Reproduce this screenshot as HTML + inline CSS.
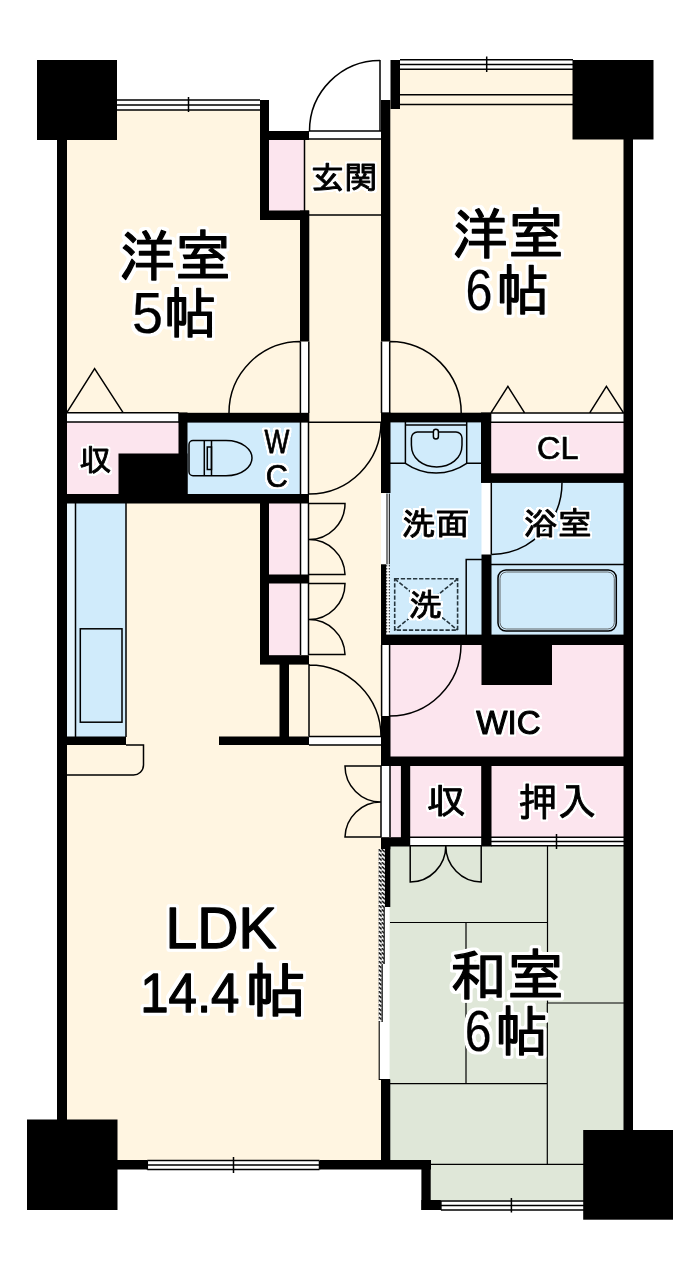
<!DOCTYPE html>
<html lang="ja">
<head>
<meta charset="utf-8">
<title>間取り図</title>
<style>
html,body{margin:0;padding:0;background:#fff;}
body{width:700px;height:1274px;overflow:hidden;}
svg{display:block;}
.t{font-family:"Liberation Sans","IPAGothic","Noto Sans CJK JP",sans-serif;fill:#000;stroke:#000;stroke-width:1.3px;stroke-linejoin:round;text-anchor:start;}
.s{stroke-width:0.9px;}
.n{stroke-width:1.3px;}
.n0{stroke-width:0.2px;}
.tb{stroke-width:1.5px;}
.ns{stroke-width:0.7px;}
.nw{stroke-width:1.1px;}
.l{fill:none;stroke:#000;stroke-width:1.5;}
.w{fill:#000;}
.wh{fill:#fff;}
.c{fill:#fff5e1;}
.p{fill:#fce5ee;}
.b{fill:#d0ebfb;}
.g{fill:#dfe7d8;}
</style>
</head>
<body>
<svg width="700" height="1274" viewBox="0 0 700 1274">
<rect width="700" height="1274" fill="#fff"/>

<!-- ===== FLOOR FILLS ===== -->
<g id="floors">
<!-- 洋室5 -->
<rect class="c" x="62" y="110" width="203" height="308"/>
<rect class="c" x="260" y="215" width="45" height="203"/>
<!-- hall + 玄関 -->
<rect class="c" x="304" y="139" width="82" height="625"/>
<!-- 洋室6 -->
<rect class="c" x="386" y="70" width="242" height="348"/>
<!-- LDK -->
<rect class="c" x="62" y="500" width="324" height="665"/>
<!-- pinks -->
<rect class="p" x="268" y="139" width="36.500" height="72"/>
<rect class="p" x="62" y="421" width="120" height="75"/>
<rect class="p" x="268" y="503" width="32.500" height="155"/>
<rect class="p" x="488" y="421" width="138" height="54"/>
<rect class="p" x="386" y="644" width="240" height="114"/>
<rect class="p" x="388" y="765" width="238" height="73"/>
<!-- blues -->
<rect class="b" x="186" y="421" width="114.500" height="74"/>
<rect class="b" x="66" y="503" width="60" height="234"/>
<rect x="66" y="503" width="9.500" height="234" fill="#e6f5fd"/>
<rect class="b" x="386" y="421" width="98" height="215"/>
<rect class="b" x="490" y="481" width="136" height="155"/>
<!-- green -->
<rect class="g" x="388" y="845.500" width="238" height="320"/>
<rect class="g" x="428" y="1160" width="158" height="40.500"/>
</g>

<!-- ===== WHITE STRIPS (doors / windows) ===== -->
<g id="whites">
<rect class="wh" x="117" y="100" width="143" height="10"/>
<rect class="wh" x="400" y="60" width="172" height="10"/>
<rect class="wh" x="309" y="131" width="75" height="8"/>
<rect class="wh" x="380" y="59" width="11" height="42"/>
<rect class="wh" x="300.500" y="341.400" width="8.300" height="72"/>
<rect class="wh" x="381.500" y="341.400" width="8.300" height="72"/>
<rect class="wh" x="67" y="412.800" width="112" height="9.200"/>
<rect class="wh" x="491" y="413" width="133" height="9.200"/>
<rect class="wh" x="300.500" y="422" width="8" height="72"/>
<rect class="wh" x="300.500" y="503" width="8" height="152"/>
<rect class="wh" x="381" y="493.600" width="8.500" height="70.700"/>
<rect class="wh" x="386" y="564.300" width="3.500" height="70.300"/>
<rect class="wh" x="481.500" y="482" width="10" height="73"/>
<rect class="wh" x="381" y="645" width="9" height="71"/>
<rect class="wh" x="309" y="736.500" width="72" height="8.500"/>
<rect class="wh" x="381" y="766" width="9" height="71"/>
<rect class="wh" x="410" y="837.300" width="72" height="8.400"/>
<rect class="wh" x="491" y="837.300" width="133" height="8.400"/>
<rect class="wh" x="147" y="1160" width="173" height="10"/>
<rect class="wh" x="440" y="1200.500" width="144" height="9.500"/>
</g>

<!-- ===== WALLS ===== -->
<g id="walls" class="w">
<!-- pillars -->
<rect x="37" y="60" width="80" height="80"/>
<rect x="572.500" y="60" width="81" height="79.500"/>
<rect x="27" y="1119.500" width="90.500" height="90.500"/>
<rect x="583.200" y="1130" width="89.800" height="89.700"/>
<!-- outer left / right -->
<rect x="57" y="139" width="10" height="982"/>
<rect x="623.500" y="139" width="9.500" height="992"/>
<!-- 洋室5 right wall + entrance closet -->
<rect x="260" y="100" width="9" height="120"/>
<rect x="260" y="131" width="49" height="9"/>
<rect x="260" y="210.500" width="49" height="9.500"/>
<rect x="300" y="210.500" width="9.300" height="131"/>
<!-- entrance right / 洋室6 left -->
<rect x="390.500" y="60" width="9.500" height="49"/>
<rect x="381" y="100" width="9.300" height="241.500"/>
<!-- mid horizontal wall row (y 412-422) -->
<rect x="178.500" y="412.800" width="130.800" height="9.800"/>
<rect x="178.500" y="412.500" width="9" height="82"/>
<rect x="118.500" y="453.500" width="69" height="41"/>
<rect x="57" y="494" width="252" height="9.500"/>
<rect x="381" y="412.700" width="110.200" height="9.700"/>
<rect x="381" y="412.500" width="9.500" height="80.500"/>
<rect x="481" y="412.500" width="10.200" height="70"/>
<rect x="481" y="473.300" width="152" height="9.600"/>
<rect x="481.500" y="554.500" width="10" height="90"/>
<rect x="381" y="564.300" width="5.200" height="80"/>
<rect x="381" y="634.600" width="252" height="10.400"/>
<rect x="481.500" y="645" width="70.500" height="40"/>
<!-- hall closets -->
<rect x="260" y="494" width="9" height="170"/>
<rect x="260" y="574.500" width="49" height="9"/>
<rect x="260" y="655.200" width="49" height="9.400"/>
<rect x="279.500" y="664" width="9.500" height="81"/>
<rect x="219" y="736.500" width="90" height="8.500"/>
<!-- kitchen bottom -->
<rect x="57" y="736.500" width="69" height="8.500"/>
<!-- WIC bottom row -->
<rect x="381" y="716" width="9.500" height="50"/>
<rect x="381" y="756.500" width="252" height="9.500"/>
<rect x="400.900" y="766" width="9.300" height="80"/>
<rect x="481.200" y="766" width="10.300" height="80.500"/>
<rect x="381" y="837.200" width="29" height="9.300"/>
<rect x="381" y="846" width="9.300" height="3.300"/>
<!-- bottom -->
<rect x="381" y="1079.500" width="9.300" height="89"/>
<rect x="117" y="1160" width="30.500" height="9.500"/>
<rect x="320" y="1160" width="111" height="9.500"/>
<rect x="421.400" y="1160" width="9.300" height="50"/>
<rect x="421.400" y="1200" width="19.500" height="10"/>
</g>

<!-- ===== THIN LINES ===== -->
<g id="lines" class="l">
<!-- window 洋室5 -->
<path d="M117 100H260M117 105H260M117 110H260M188.500 97V112"/>
<!-- window 洋室6 -->
<path d="M400 59.700H573M400 64.500H573M400 69.300H573M400 94.700H573M400 104.500H573M486.700 56.500V72"/>
<!-- entrance -->
<path d="M309 131H384M309 139H384M304.500 139V211M309 215H384M380 60V131"/>
<path d="M309.500 131A70.500 70.500 0 0 1 380 60.500"/>
<!-- 洋室5 door -->
<path d="M300.400 341.400V413M308.800 341.400V413M229 413A71.500 71.500 0 0 1 300.400 341.400"/>
<!-- 洋室6 door -->
<path d="M389.700 341.400V413M381.500 341.400V413M389.700 341.400A71.500 71.500 0 0 1 461.200 413"/>
<!-- closet triangles -->
<path d="M66.800 412.600L94.600 368.600L123.100 412.600M66.800 412.800H179M66.800 422H179"/>
<path d="M491 412.800L507.900 386.400L524.600 412.800M589.700 412.800L606.400 386.400L623.500 412.800M491 413.100H624M491 422.200H624"/>
<path d="M309 422.200H381.500"/>
<!-- WC door -->
<path d="M300.500 422V494M308.500 422V494M381 422A72 72 0 0 1 309 494"/>
<!-- toilet -->
<path d="M189 444.500A4 4 0 0 1 193 440.500H226C243 440.500 252 450 252 458C252 466 243 475.700 226 475.700H193A4 4 0 0 1 189 471.700Z"/>
<path d="M204.300 440.500V475.700M211.500 440.500V475.700"/>
<rect x="207.300" y="447" width="4.200" height="22.500"/>
<!-- hall closet doors -->
<path d="M300.500 503V655M308.500 503V655"/>
<path d="M309 503.500H345A36 36 0 0 1 309 539.500A36 36 0 0 1 345 574.500H309"/>
<path d="M309 583.500H345A36 36 0 0 1 309 619.500A36 36 0 0 1 345 654.500H309"/>
<!-- LDK door -->
<path d="M309 664V736.500M309 736.500H381M309 745H381M309 665A72 72 0 0 1 381 737"/>
<!-- kitchen -->
<path d="M75.500 503V737M126 503V737"/>
<rect x="80.300" y="628.800" width="41.700" height="93.400"/>
<path d="M67 775H133A10 10 0 0 0 143.500 765V745H126"/>
<!-- 洗面 -->
<path d="M405.400 422V463.300A53.700 53.700 0 0 0 466.700 463.300V422M405.400 425H466.700M390 463.200H405.400M466.700 463.200H481"/>
<path d="M411.400 438A6 6 0 0 1 417.400 432H456A6 6 0 0 1 462 438V445C462 459 450 466.900 436.700 466.900C423 466.900 411.400 459 411.400 445Z"/>
<rect x="433.400" y="429.200" width="5" height="9.800" rx="2.500" fill="#e4f4fc"/>
<path d="M466.200 635V559.600H482"/>
<path d="M389.300 493.600V564.300M387 493.600V564.300" style="stroke-width:1"/>
<!-- 浴室 -->
<path d="M562 482.500A71 72 0 0 1 491.300 554.500M491.300 482.500V554.500"/>
<path d="M491 564.600H624"/>
<rect x="498" y="570" width="118.300" height="61" rx="8"/>
<rect x="500" y="572" width="114.300" height="57" rx="6.500" style="stroke-width:0.8;stroke:#444"/>
<!-- WIC door -->
<path d="M389.600 645V716M381.600 645V716M461 645A71.500 71.500 0 0 1 389.600 716"/>
<!-- LDK closet double door -->
<path d="M381 766V837M390 766V837"/>
<path d="M381 766H345A36 36 0 0 0 381 802A36 36 0 0 0 345 837H381"/>
<!-- 収 doors (和室) -->
<path d="M410 837.300H482M410 845.700H482"/>
<path d="M410.200 845.700V882A35.600 36.300 0 0 0 445.800 845.700A35.600 36.300 0 0 0 481.200 882V845.700"/>
<!-- 押入 sliding -->
<path d="M491 837.300H624M491 841.500H624M491 845.700H624M556.500 834V849"/>
<!-- 和室 sliding door -->
<!-- tatami -->
<path style="stroke-width:1.200" d="M547.500 845V1003H624M390 922.500H547.500M466 922.500V1083.700M390 1083.700H547.500M547.300 1003V1164.300M430 1164.300H584"/>
<!-- bottom windows -->
<path d="M147.300 1160.500H319.500M147.300 1165H319.500M147.300 1169.500H319.500M233.500 1157V1173M147.300 1160.500V1169.500M319.500 1160.500V1169.500"/>
<path d="M440.900 1200.900H584M440.900 1205.400H584M440.900 1210H584M511.400 1198V1212.500M440.900 1200.900V1210"/>
</g>

<!-- washing machine dashed -->
<g fill="none" stroke="#26363e" stroke-width="1.600" stroke-dasharray="4.300 1.800">
<rect x="394.700" y="578.800" width="62.900" height="51.300"/>
<path d="M394.700 578.800L457.600 630.100M457.600 578.800L394.700 630.100"/>
</g>
<path d="M386.700 565V634M389.300 565V634" fill="none" stroke="#222" stroke-width="1" stroke-dasharray="1.500 1.500"/>

<!-- hatched pocket (fusuma) -->
<defs>
<pattern id="hat" patternUnits="userSpaceOnUse" x="378.400" y="849" width="3.200" height="4.300">
<rect width="3.200" height="4.300" fill="#fff"/>
<path d="M-0.500 -0.300L3.700 3.300" stroke="#000" stroke-width="1.500"/>
</pattern>
</defs>
<rect x="379.600" y="907" width="10" height="172.500" fill="#fff"/>
<rect x="378.400" y="849" width="6.600" height="58" fill="url(#hat)"/>
<rect x="378.400" y="907" width="5.500" height="57" fill="url(#hat)"/>
<rect x="378.400" y="964" width="3.400" height="58" fill="url(#hat)"/>
<path class="l" d="M384.200 907V964M382.200 964V1022M379.200 1022V1079.500H390" style="stroke-width:1.100"/>
<rect class="w" x="385" y="846" width="5.300" height="61"/>

<!-- ===== TEXT ===== -->
<defs>
<filter id="halo2" filterUnits="userSpaceOnUse" x="0" y="0" width="700" height="1274" color-interpolation-filters="sRGB">
<feMorphology in="SourceAlpha" operator="dilate" radius="2" result="d"/>
<feGaussianBlur in="d" stdDeviation="0.600" result="bl"/>
<feComponentTransfer in="bl" result="th"><feFuncA type="linear" slope="4" intercept="-1.400"/></feComponentTransfer>
<feFlood flood-color="#fff" result="f"/>
<feComposite in="f" in2="th" operator="in" result="h"/>
<feMerge><feMergeNode in="h"/><feMergeNode in="SourceGraphic"/></feMerge>
</filter>
<filter id="halo" filterUnits="userSpaceOnUse" x="0" y="0" width="700" height="1274" color-interpolation-filters="sRGB">
<feMorphology in="SourceAlpha" operator="dilate" radius="3" result="d"/>
<feGaussianBlur in="d" stdDeviation="0.800" result="bl"/>
<feComponentTransfer in="bl" result="th"><feFuncA type="linear" slope="4" intercept="-1.400"/></feComponentTransfer>
<feFlood flood-color="#fff" result="f"/>
<feComposite in="f" in2="th" operator="in" result="h"/>
<feMerge><feMergeNode in="h"/><feMergeNode in="SourceGraphic"/></feMerge>
</filter>
</defs>
<g id="text">
<g filter="url(#halo)">
<text class="t" font-size="56" transform="matrix(0.998 0 0 0.990 119.20 275.94)">洋室</text>
<text class="t" font-size="56" transform="matrix(0.997 0 0 1.032 132.06 332.51)"><tspan class="n0" font-size="56">5</tspan><tspan font-size="53" dx="1">帖</tspan></text>
<text class="t" font-size="56" transform="matrix(0.995 0 0 0.990 452.21 253.54)">洋室</text>
<text class="t" font-size="56" transform="matrix(0.999 0 0 1.032 465.45 310.21)"><tspan class="n0" font-size="56" textLength="27" lengthAdjust="spacingAndGlyphs">6</tspan><tspan font-size="53" dx="4">帖</tspan></text>
<text class="t n" font-size="57" transform="matrix(1.001 0 0 1.021 165.50 947.99)">LDK</text>
<text class="t" font-size="58" transform="matrix(1.012 0 0 0.978 140.21 1011.61)"><tspan class="n" font-size="57" textLength="98" lengthAdjust="spacingAndGlyphs">14.4</tspan><tspan class="tb" font-size="60" dx="6">帖</tspan></text>
<text class="t" font-size="56" transform="matrix(1.015 0 0 0.990 450.11 995.24)">和室</text>
<text class="t" font-size="56" transform="matrix(0.992 0 0 1.032 464.77 1051.31)"><tspan class="n0" font-size="56" textLength="27" lengthAdjust="spacingAndGlyphs">6</tspan><tspan font-size="53" dx="4">帖</tspan></text>
</g>
<g filter="url(#halo2)">
<text class="t s" font-size="32" transform="matrix(1.045 0 0 0.983 310.71 189.30)">玄関</text>
<text class="t s" font-size="32" transform="matrix(1.008 0 0 0.970 79.29 470.93)">収</text>
<text class="t ns" font-size="30" transform="matrix(0.877 0 0 1.078 264.62 452.73)">W</text>
<text class="t ns" font-size="30" transform="matrix(1.021 0 0 1.053 265.82 486.77)">C</text>
<text class="t ns" font-size="32" transform="matrix(1.013 0 0 0.974 537.03 459.27)">CL</text>
<text class="t s" font-size="33" transform="matrix(1.029 0 0 0.963 401.66 534.91)">洗面</text>
<text class="t s" font-size="33" transform="matrix(1.037 0 0 0.970 523.54 535.13)">浴室</text>
<text class="t s" font-size="32" transform="matrix(1.046 0 0 0.971 408.83 616.23)">洗</text>
<text class="t nw" font-size="35" transform="matrix(0.945 0 0 0.975 476.34 733.87)">WIC</text>
<text class="t s" font-size="38" transform="matrix(1.033 0 0 0.940 426.81 814.44)">収</text>
<text class="t s" font-size="38" transform="matrix(1.023 0 0 1.029 518.72 815.51)">押入</text>
</g>
</g>
</svg>
</body>
</html>
